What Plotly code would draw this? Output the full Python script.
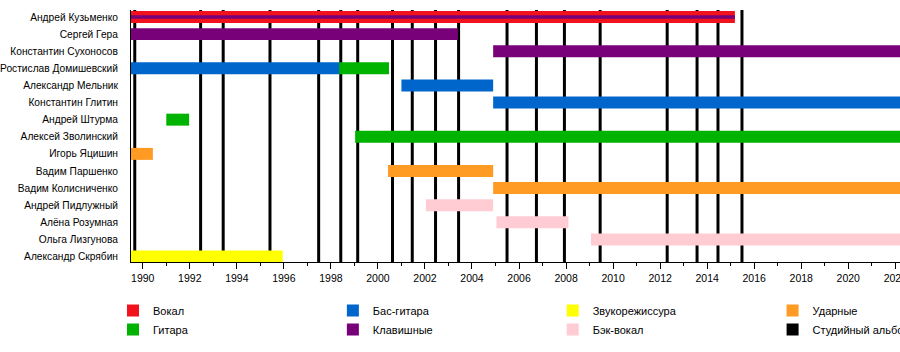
import plotly.graph_objects as go

# ---------------- data ----------------
members = [
    "Андрей Кузьменко", "Сергей Гера", "Константин Сухоносов",
    "Ростислав Домишевский", "Александр Мельник", "Константин Глитин",
    "Андрей Штурма", "Алексей Зволинский", "Игорь Яцишин", "Вадим Паршенко",
    "Вадим Колисниченко", "Андрей Пидлужный", "Алёна Розумная",
    "Ольга Лизгунова", "Александр Скрябин",
]

roles = ["Вокал", "Гитара", "Бас-гитара", "Клавишные",
         "Звукорежиссура", "Бэк-вокал", "Ударные"]

bar_member = [
    "Андрей Кузьменко", "Сергей Гера", "Константин Сухоносов",
    "Ростислав Домишевский", "Ростислав Домишевский", "Александр Мельник",
    "Константин Глитин", "Андрей Штурма", "Алексей Зволинский",
    "Игорь Яцишин", "Вадим Паршенко", "Вадим Колисниченко",
    "Андрей Пидлужный", "Алёна Розумная", "Ольга Лизгунова",
    "Александр Скрябин",
]
bar_role = [
    "Вокал", "Клавишные", "Клавишные",
    "Бас-гитара", "Гитара", "Бас-гитара",
    "Бас-гитара", "Гитара", "Гитара",
    "Ударные", "Ударные", "Ударные",
    "Бэк-вокал", "Бэк-вокал", "Бэк-вокал",
    "Звукорежиссура",
]
bar_start = [1989.5, 1989.5, 2004.9, 1989.5, 1998.35, 2001.0, 2004.9, 1991.0,
             1999.03, 1989.5, 2000.43, 2004.9, 2002.04, 2005.04, 2009.06, 1989.5]
bar_end = [2015.18, 2003.4, 2023.0, 1998.35, 2000.47, 2004.9, 2023.0, 1991.97,
           2023.0, 1990.43, 2004.9, 2023.0, 2004.9, 2008.1, 2023.0, 1995.95]

# secondary role (thin stripe)
stripe_member = ["Андрей Кузьменко"]
stripe_role = ["Клавишные"]
stripe_start = [1989.5]
stripe_end = [2015.18]

albums = [1989.66, 1992.46, 1993.42, 1995.41, 1997.48, 1998.42, 1999.14,
          2000.62, 2001.46, 2002.45, 2003.43, 2005.49, 2006.74, 2007.93,
          2009.45, 2012.3, 2013.57, 2014.46, 2015.48]
album_label = "Студийный альбом"

colors = {
    "Вокал": "#F2121E",
    "Гитара": "#00B300",
    "Бас-гитара": "#0066CC",
    "Клавишные": "#780078",
    "Звукорежиссура": "#FFFF00",
    "Бэк-вокал": "#FFCCD4",
    "Ударные": "#FF9A22",
    album_label: "#000000",
}
legend_of = {
    "Вокал": "legend", "Гитара": "legend",
    "Бас-гитара": "legend2", "Клавишные": "legend2",
    "Звукорежиссура": "legend3", "Бэк-вокал": "legend3",
    "Ударные": "legend4", album_label: "legend4",
}

FONT = "Liberation Sans, Arial, sans-serif"

fig = go.Figure()

for role in roles:
    idx = [i for i, r in enumerate(bar_role) if r == role]
    fig.add_trace(go.Bar(
        orientation="h",
        y=[bar_member[i] for i in idx],
        x=[bar_end[i] - bar_start[i] for i in idx],
        base=[bar_start[i] for i in idx],
        width=0.7,
        marker=dict(color=colors[role], line=dict(width=0)),
        name=role,
        legend=legend_of[role],
        hoverinfo="skip",
    ))

# legend entry for albums
fig.add_trace(go.Bar(
    orientation="h", y=[None], x=[None], name=album_label,
    marker=dict(color=colors[album_label], line=dict(width=0)),
    legend=legend_of[album_label], hoverinfo="skip",
))

for m, r, s, e in zip(stripe_member, stripe_role, stripe_start, stripe_end):
    fig.add_trace(go.Bar(
        orientation="h", y=[m], x=[e - s], base=[s], width=0.2,
        marker=dict(color=colors[r], line=dict(width=0)),
        showlegend=False, hoverinfo="skip",
    ))

for a in albums:
    fig.add_shape(type="line", xref="x", yref="paper", x0=a, x1=a, y0=0, y1=1,
                  line=dict(color="black", width=3), layer="below")

W, H = 900, 352
ml, mt, mb = 130.5, 10, 90
pw = W - ml
ph = H - mt - mb


def px_x(p):
    return (p - ml) / pw


def px_y(p):
    return (H - mb - p) / ph


leg_common = dict(orientation="v", xanchor="left", yanchor="top",
                  bgcolor="rgba(0,0,0,0)", borderwidth=0,
                  font=dict(family=FONT, size=11, color="#000"),
                  traceorder="normal", itemclick=False)
sw = [132.5, 352.5, 572.5, 792.5]
ly = px_y(296)
fig.update_layout(
    width=W, height=H,
    margin=dict(l=ml, r=0, t=mt, b=mb, autoexpand=False),
    paper_bgcolor="white", plot_bgcolor="white",
    barmode="overlay",
    font=dict(family=FONT, size=11, color="#000"),
    legend=dict(x=px_x(sw[0] - 20), y=ly, **leg_common),
    legend2=dict(x=px_x(sw[1] - 20), y=ly, **leg_common),
    legend3=dict(x=px_x(sw[2] - 20), y=ly, **leg_common),
    legend4=dict(x=px_x(sw[3] - 20), y=ly, **leg_common),
)

fig.update_xaxes(
    range=[1989.5, 2022.2], tickmode="linear", tick0=1990, dtick=2,
    ticks="outside", ticklen=6, tickwidth=1, tickcolor="black",
    showline=True, linecolor="black", linewidth=1,
    showgrid=False, zeroline=False, ticklabeloverflow="allow",
    tickfont=dict(family=FONT, size=10.5, color="#000"),
    minor=dict(tick0=1990, dtick=1, ticks="outside", ticklen=3,
               tickcolor="black", tickwidth=1, showgrid=False),
)
fig.update_yaxes(
    type="category", categoryorder="array", categoryarray=members,
    range=[14.32, -0.41], autorange=False,
    showline=True, linecolor="black", linewidth=1,
    showgrid=False, zeroline=False, ticks="", ticklabelstandoff=10,
    tickfont=dict(family=FONT, size=10.2, color="#000"),
)

fig.write_html("out.html")
